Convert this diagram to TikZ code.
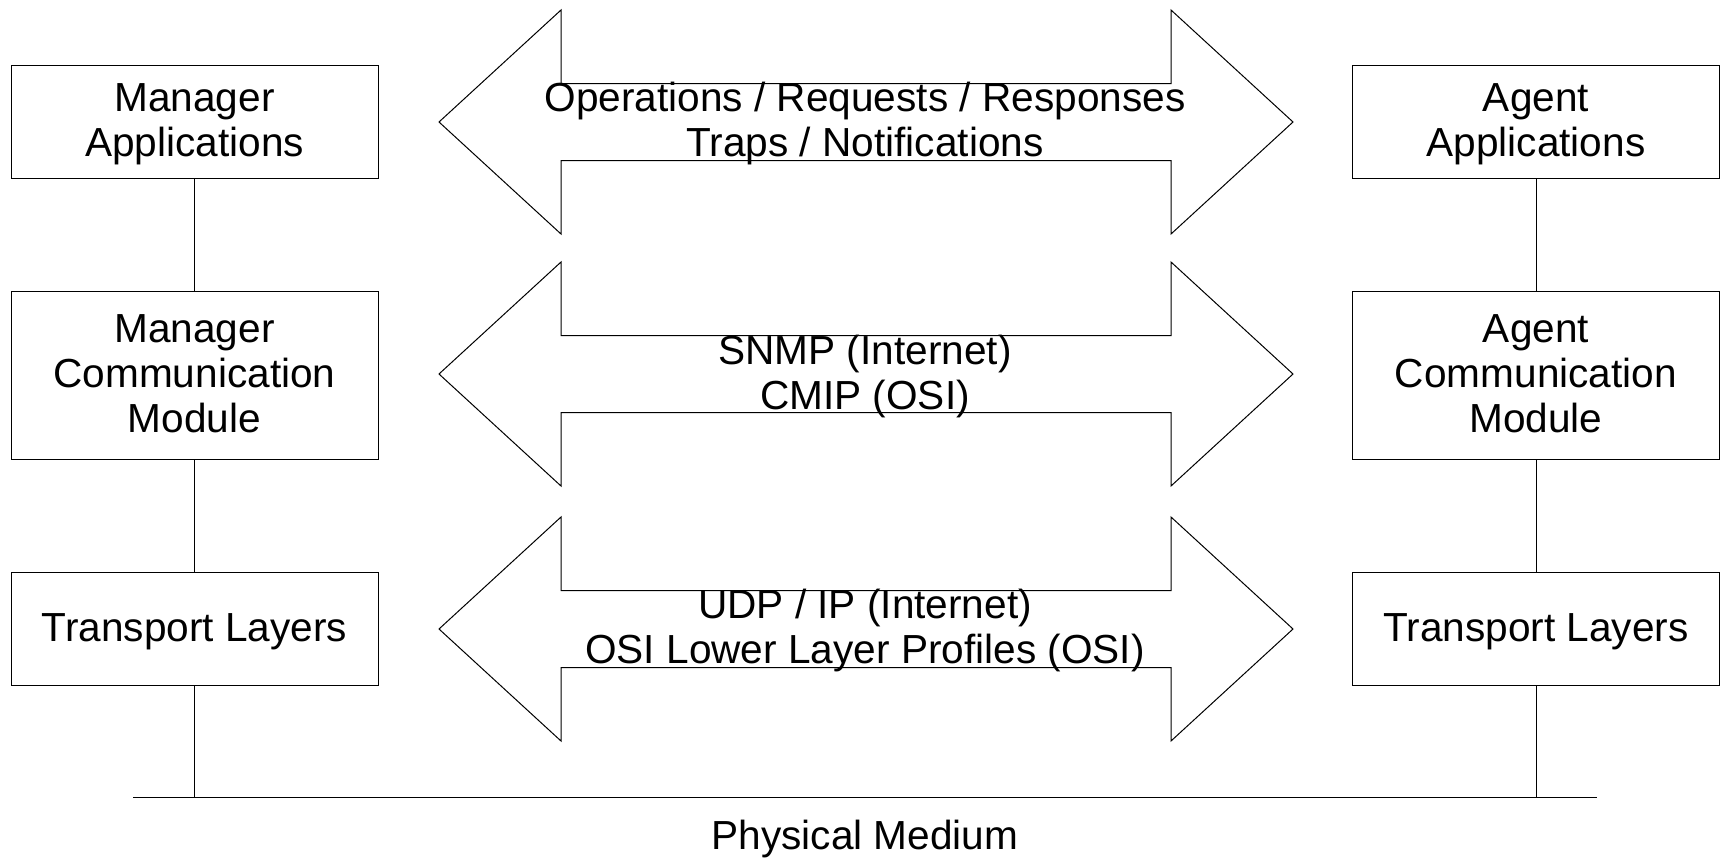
\documentclass[tikz,border=0pt]{standalone}
\usepackage{fontspec}
\setmainfont{Liberation Sans}
\begin{document}
\begin{tikzpicture}[x=1pt, y=-1pt, line width=1pt,
  txt/.style={font=\fontsize{40.6}{45}\selectfont, align=center, inner sep=0pt},
  box/.style={draw, minimum width=367pt, minimum height=#1, inner sep=0pt},
  link/.style={draw, line width=1pt},
  dblarrow/.style={draw, line width=1pt, line join=miter}]
\useasboundingbox (0,0) rectangle (1721,857);

% manager stack
\node[box=113pt] (ma) at (194.5,121.5) {};
\node[box=168pt] (mc) at (194.5,375) {};
\node[box=113pt] (mt) at (194.5,628.5) {};
\node[txt] (mat) at (194.5,124) {Manager\\Applications};
\node[txt] (mct) at (194.5,374) {Manager\\Communication\\Module};
\node[txt] (mtt) at (194.5,631.5) {Transport Layers};

% agent stack
\node[box=113pt] (aa) at (1536,121.5) {};
\node[box=168pt] (ac) at (1536,375) {};
\node[box=113pt] (at) at (1536,628.5) {};
\node[txt] (aat) at (1536,124) {Agent\\Applications};
\node[txt] (act) at (1536,374) {Agent\\Communication\\Module};
\node[txt] (att) at (1536,631.5) {Transport Layers};

% shared medium
\coordinate (busL) at (133,797);
\coordinate (busR) at (1597,797);
\draw[link] (busL) -- (busR);
\node[txt] (pm) at (865,838.5) {Physical Medium};

% vertical links of each stack
\draw[link] (ma) -- (mc);
\draw[link] (mc) -- (mt);
\draw[link] (mt.south) -- (mt.south |- busL);
\draw[link] (aa) -- (ac);
\draw[link] (ac) -- (at);
\draw[link] (at.south) -- (at.south |- busL);

% two-headed exchange arrows between the peers
\foreach \c in {122,374,629} {
  \draw[dblarrow] (439,\c) -- (561,\c-112) -- (561,\c-38.5) -- (1171,\c-38.5)
    -- (1171,\c-112) -- (1293,\c) -- (1171,\c+112) -- (1171,\c+38.5)
    -- (561,\c+38.5) -- (561,\c+112) -- cycle;
}
\node[txt] (ops) at (865,123) {Operations / Requests / Responses\\Traps / Notifications};
\node[txt] (proto) at (865,376) {SNMP (Internet)\\CMIP (OSI)};
\node[txt] (trans) at (865,630.5) {UDP / IP (Internet)\\OSI Lower Layer Profiles (OSI)};
\end{tikzpicture}
\end{document}
